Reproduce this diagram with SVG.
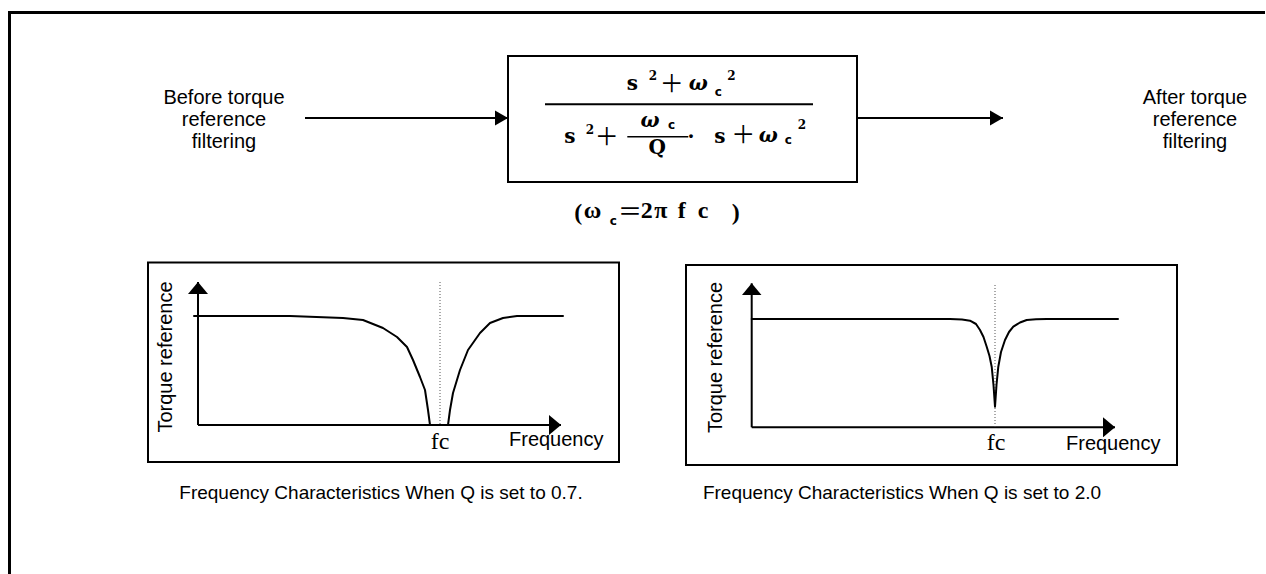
<svg xmlns="http://www.w3.org/2000/svg" width="1266" height="574" viewBox="0 0 1266 574">
<defs>
<style>
.lbl{font-family:"Liberation Sans",Arial,sans-serif;font-size:20px;fill:#000;text-anchor:middle}
.ax{font-family:"Liberation Sans",Arial,sans-serif;font-size:20px;fill:#000}
.cap{font-family:"Liberation Sans",Arial,sans-serif;font-size:19px;fill:#000;text-anchor:middle}
.fc{font-family:"Liberation Serif","Times New Roman",serif;font-size:24px;fill:#000;text-anchor:middle}
.m{font-family:"DejaVu Serif",serif;font-weight:bold;font-size:20px;fill:#000;text-anchor:middle}
.w{font-family:"DejaVu Serif",serif;font-style:italic;font-weight:bold;font-size:20px;fill:#000;text-anchor:middle}
.sup{font-family:"DejaVu Serif",serif;font-weight:bold;font-size:12px;fill:#000;text-anchor:middle}
.sub{font-family:"DejaVu Sans",sans-serif;font-weight:bold;font-size:12px;fill:#000;text-anchor:middle}
.pl{font-family:"Noto Sans CJK JP","DejaVu Sans",sans-serif;font-size:24px;fill:#000;text-anchor:middle}
.p{font-family:"Liberation Serif","Times New Roman",serif;font-weight:bold;font-size:24px;fill:#000;text-anchor:middle}
.box{fill:none;stroke:#000;stroke-width:2}
.ln{fill:none;stroke:#000;stroke-width:2}
.curve{fill:none;stroke:#000;stroke-width:2;stroke-linejoin:round;stroke-linecap:round}
.dot{fill:none;stroke:#555;stroke-width:1;stroke-dasharray:1 2}
</style>
<marker id="ah" markerUnits="userSpaceOnUse" markerWidth="14" markerHeight="16" refX="13" refY="8" orient="auto"><path d="M0,0.5 L13,8 L0,15.5z" fill="#000"/></marker>
<marker id="axh" markerUnits="userSpaceOnUse" markerWidth="13" markerHeight="20" refX="12" refY="10" orient="auto"><path d="M0,0 L12,10 L0,20z" fill="#000"/></marker>
</defs>
<rect width="1266" height="574" fill="#fff"/>
<g id="frame"><path d="M9.5,574 V12.5 H1265" fill="none" stroke="#000" stroke-width="3"/></g>

<g id="input-label">
<text class="lbl" x="224" y="104">Before torque</text>
<text class="lbl" x="224" y="126">reference</text>
<text class="lbl" x="224" y="148">filtering</text>
</g>

<g id="output-label">
<text class="lbl" x="1195" y="104">After torque</text>
<text class="lbl" x="1195" y="126">reference</text>
<text class="lbl" x="1195" y="148">filtering</text>
</g>

<g id="filter-block">
<rect class="box" x="508" y="56" width="349" height="126"/>
<line class="ln" x1="545" y1="104.3" x2="813" y2="104.3"/>
<text class="m" x="632.5" y="89.5">s</text>
<text class="sup" x="653" y="80">2</text>
<text class="pl" x="671.7" y="91.5">＋</text>
<text class="w" x="698.3" y="89.5">ω</text>
<text class="sub" x="718.3" y="96">c</text>
<text class="sup" x="731.5" y="80">2</text>

<text class="m" x="570" y="143">s</text>
<text class="sup" x="590" y="134">2</text>
<text class="pl" x="606.7" y="145">＋</text>
<text class="w" x="650" y="127.3">ω</text>
<text class="sub" x="671.5" y="129.3">c</text>
<line x1="627.3" y1="136.7" x2="688.3" y2="136.7" stroke="#000" stroke-width="1.5"/>
<text class="m" x="657.3" y="154" font-size="18">Q</text>
<text class="m" x="691" y="143">·</text>
<text class="m" x="720" y="143">s</text>
<text class="pl" x="743.3" y="143">＋</text>
<text class="w" x="768.3" y="142">ω</text>
<text class="sub" x="788.3" y="144.3">c</text>
<text class="sup" x="802" y="129.3">2</text>
</g>

<g id="formula-note">
<text class="p" x="578.3" y="220" font-weight="normal">(</text>
<text class="p" x="592.5" y="218" font-size="22">ω</text>
<text class="sub" x="613.3" y="225">c</text>
<text class="pl" x="630" y="220">＝</text>
<text class="p" x="646.7" y="218">2</text>
<text class="p" x="660.8" y="218">π</text>
<text class="p" x="681.7" y="218">f</text>
<text class="p" x="703" y="218">c</text>
<text class="p" x="735.8" y="220" font-weight="normal">)</text>
</g>

<g id="graph-q07">
<rect class="box" x="148" y="262.5" width="471" height="199.5"/>
<line class="ln" x1="198" y1="425" x2="198" y2="282" marker-end="url(#axh)"/>
<line class="ln" x1="198" y1="425" x2="561" y2="425" marker-end="url(#axh)"/>
<line class="dot" x1="440" y1="282" x2="440" y2="425"/>
<path class="curve" d="M194,316 L290,316 L343,318 L363,320 L383,328 L397,337 L407,347 L413,360 L420,377 L425,390 L428,410 L430,425"/>
<path class="curve" d="M448,425 L450,410 L453,393 L460,370 L468,350 L480,333 L490,323 L503,318 L517,316 L563,316"/>
<text class="ax" transform="rotate(-90 171.5 357)" x="171.5" y="357" text-anchor="middle">Torque reference</text>
<text class="ax" x="509" y="446" font-size="21">Frequency</text>
<text class="fc" x="440" y="449">fc</text>
</g>

<g id="graph-q20">
<rect class="box" x="686" y="265" width="491" height="200"/>
<line class="ln" x1="751.7" y1="427.3" x2="751.7" y2="283.3" marker-end="url(#axh)"/>
<line class="ln" x1="751.7" y1="427.3" x2="1115" y2="427.3" marker-end="url(#axh)"/>
<line class="dot" x1="995" y1="285" x2="995" y2="427"/>
<path class="curve" d="M751.7,319 L950,319 L962,319.5 L970,320.7 L976,324 L980,330 L983.5,337 L986.7,346.7 L989.5,356 L991.7,366.7 L993.5,385 L995,406.7 L996.5,385 L998.3,366.7 L1001,352 L1005,340 L1009,332 L1013.3,326.7 L1020,322.5 L1026.7,320 L1036,319.3 L1046.7,319 L1118,319"/>
<text class="ax" transform="rotate(-90 722 357.5)" x="722" y="357.5" text-anchor="middle">Torque reference</text>
<text class="ax" x="1066" y="450" font-size="20.5">Frequency</text>
<text class="fc" x="996" y="450">fc</text>
</g>

<g id="caption-q07"><text class="cap" x="381" y="499">Frequency Characteristics When Q is set to 0.7.</text></g>
<g id="caption-q20"><text class="cap" x="902" y="499">Frequency Characteristics When Q is set to 2.0</text></g>

<g id="connectors">
<line class="ln" x1="305" y1="118" x2="508" y2="118" marker-end="url(#ah)"/>
<line class="ln" x1="857" y1="118" x2="1003" y2="118" marker-end="url(#ah)"/>
</g>
</svg>
